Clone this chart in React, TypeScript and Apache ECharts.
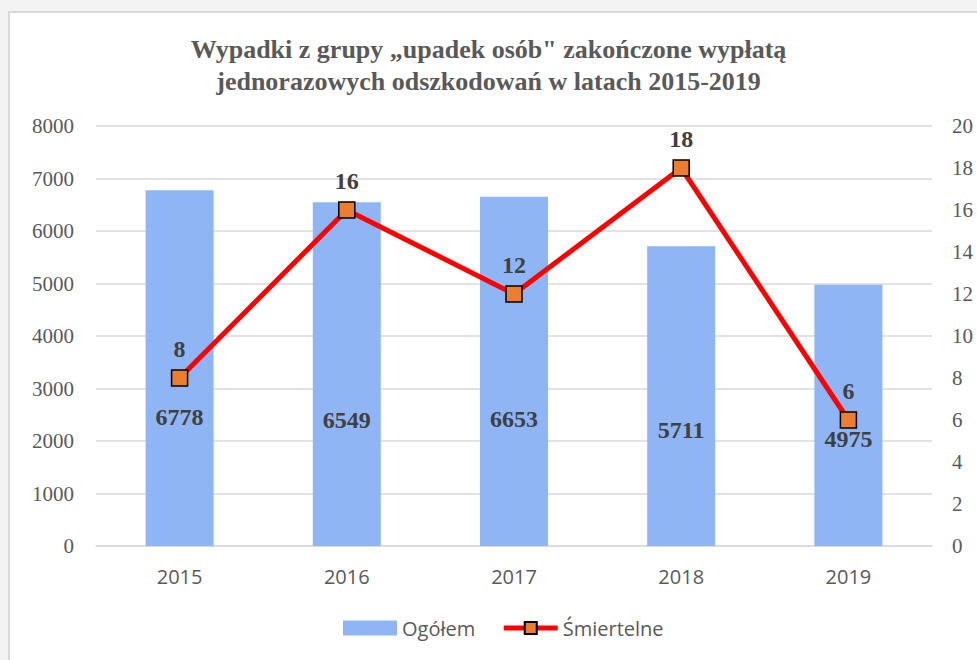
import React, { useEffect, useRef } from "react";
import * as echarts from "echarts";

const years = ["2015", "2016", "2017", "2018", "2019"];
const ogolem = [6778, 6549, 6653, 5711, 4975];
const smiertelne = [8, 16, 12, 18, 6];
const titleLines = [
  "Wypadki z grupy \u201eupadek osób\" zakończone wypłatą",
  "jednorazowych odszkodowań w latach 2015-2019",
];

export default function App() {
  const ref = useRef<HTMLDivElement>(null);
  useEffect(() => {
    if (!ref.current) return;
    const chart = echarts.init(ref.current, null, { renderer: "svg" });
    chart.setOption({
      animation: false,
      backgroundColor: "transparent",
      title: {
        text: titleLines.join("\n"),
        left: "center",
        top: 28,
        textStyle: {
          fontFamily: "'Liberation Serif', 'Times New Roman', serif",
          fontWeight: "bold",
          fontSize: 26,
          lineHeight: 32,
          color: "#595959",
        },
      },
      legend: {
        bottom: 17,
        left: 338,
        itemWidth: 54,
        itemHeight: 15,
        itemGap: 26,
        lineStyle: { width: 5 },
        textStyle: {
          fontFamily: "'Open Sans', sans-serif",
          fontSize: 20,
          color: "#595959",
        },
        data: [
          { name: "Ogółem", icon: "rect" },
          { name: "Śmiertelne" },
        ],
      },
      grid: { left: 96, right: 45, top: 126, bottom: 114 },
      xAxis: {
        type: "category",
        data: years,
        axisLine: { lineStyle: { color: "#d9d9d9", width: 1.5 } },
        axisTick: { show: false },
        axisLabel: {
          margin: 20,
          fontFamily: "'Open Sans', sans-serif",
          fontSize: 20,
          color: "#595959",
        },
      },
      yAxis: [
        {
          type: "value",
          min: 0,
          max: 8000,
          interval: 1000,
          axisLine: { show: false },
          axisTick: { show: false },
          splitLine: { lineStyle: { color: "#d9d9d9", width: 1.5 } },
          axisLabel: {
            margin: 22,
            formatter: (v: number) => String(v),
            fontFamily: "'Liberation Serif', 'Times New Roman', serif",
            fontSize: 21,
            color: "#595959",
          },
        },
        {
          type: "value",
          min: 0,
          max: 20,
          interval: 2,
          position: "right",
          axisLine: { show: false },
          axisTick: { show: false },
          splitLine: { show: false },
          axisLabel: {
            margin: 20,
            fontFamily: "'Liberation Serif', 'Times New Roman', serif",
            fontSize: 21,
            color: "#595959",
          },
        },
      ],
      series: [
        {
          name: "Ogółem",
          type: "bar",
          data: ogolem,
          barWidth: 68,
          itemStyle: { color: "#8fb5f5" },
          label: {
            show: true,
            position: ["50%", "76.7%"],
            offset: [0, -46],
            align: "center",
            verticalAlign: "middle",
            fontFamily: "'Liberation Serif', 'Times New Roman', serif",
            fontWeight: "bold",
            fontSize: 24,
            color: "#404040",
          },
        },
        {
          name: "Śmiertelne",
          type: "line",
          yAxisIndex: 1,
          data: smiertelne,
          lineStyle: { color: "#ff0000", width: 5 },
          symbol: "rect",
          symbolSize: 16,
          itemStyle: { color: "#ed7d31", borderColor: "#000000", borderWidth: 1.5 },
          label: {
            show: true,
            position: "top",
            distance: 8,
            fontFamily: "'Liberation Serif', 'Times New Roman', serif",
            fontWeight: "bold",
            fontSize: 24,
            color: "#404040",
          },
          z: 5,
        },
      ],
    });
    return () => chart.dispose();
  }, []);

  return (
    <div
      style={{
        position: "fixed",
        left: 0,
        top: 0,
        width: 977,
        height: 660,
        background: "#f3f3f3",
        overflow: "hidden",
      }}
    >
      <div
        style={{
          position: "absolute",
          left: 8,
          top: 11,
          width: 1000,
          height: 700,
          background: "#ffffff",
          border: "2px solid #d9d9d9",
        }}
      />
      <div
        ref={ref}
        style={{ position: "absolute", left: 0, top: 0, width: 977, height: 660 }}
      />
    </div>
  );
}
